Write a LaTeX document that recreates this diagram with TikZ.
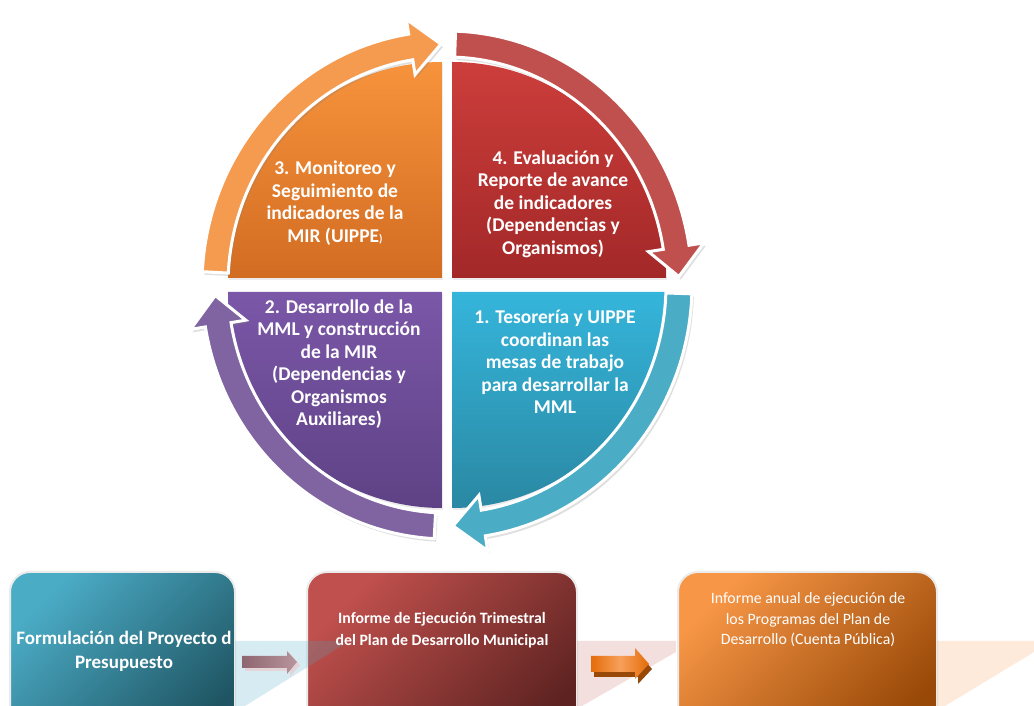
\documentclass[tikz,border=0pt]{standalone}
\usepackage{fontspec}
\setmainfont{Carlito}
\usetikzlibrary{calc,shadows}
\definecolor{secOrT}{HTML}{F7933C}
\definecolor{secOrB}{HTML}{D26C22}
\definecolor{secRdT}{HTML}{CC3E3B}
\definecolor{secRdB}{HTML}{A32828}
\definecolor{secBlT}{HTML}{35B5DB}
\definecolor{secBlB}{HTML}{2A88A3}
\definecolor{secPuT}{HTML}{7B57A8}
\definecolor{secPuB}{HTML}{5E4285}
\definecolor{arOr}{HTML}{F59B50}
\definecolor{arRd}{HTML}{C0504D}
\definecolor{arBl}{HTML}{4BACC6}
\definecolor{arPu}{HTML}{8064A2}
\definecolor{bxBlA}{HTML}{4BACC6}
\definecolor{bxBlB}{HTML}{1F5563}
\definecolor{bxRdA}{HTML}{C0504D}
\definecolor{bxRdB}{HTML}{5E2321}
\definecolor{bxOrA}{HTML}{F79646}
\definecolor{bxOrB}{HTML}{984807}
\definecolor{smOrD}{HTML}{E46C0A}
\definecolor{smOrL}{HTML}{F7A05A}
\definecolor{smOrS}{HTML}{984807}
\definecolor{smRdD}{HTML}{8E6670}
\definecolor{smRdL}{HTML}{B8959C}
\newcommand\ringarrow[4]{%
  \path[fill=#4, draw=white, line width=3pt,
        drop shadow={shadow xshift=2pt, shadow yshift=-3pt, opacity=0.25}]
    ($(C)+(#1:245pt and 254pt)$)
    arc[start angle=#1, end angle=#2, x radius=245pt, y radius=254pt]
    -- ($(C)+(#2:260pt and 269pt)$)
    -- ($(C)+(#3:232pt and 241pt)$)
    -- ($(C)+(#2:204pt and 213pt)$)
    -- ($(C)+(#2:219pt and 228pt)$)
    arc[start angle=#2, end angle=#1, x radius=219pt, y radius=228pt]
    -- cycle;}
\tikzset{
  ctext/.style={text=white, font=\bfseries\fontsize{19.5}{22.5}\selectfont, align=center, inner sep=0pt},
  btext/.style={text=white, align=center, inner sep=0pt},
  boxframe/.style={draw=black!8, line width=2pt, rounded corners=20pt},
}
\begin{document}
\begin{tikzpicture}[x=1pt,y=1pt]
\clip (0,0) rectangle (1034,706);
\fill[white] (0,0) rectangle (1034,706);
\coordinate (C) at (447,421);
% sectors
\shade[top color=secOrT, bottom color=secOrB, drop shadow={shadow xshift=1pt, shadow yshift=-2pt, opacity=0.15}]
  (442,428) -- ++(-214,0) arc[start angle=180, end angle=90, x radius=214pt, y radius=216pt] -- cycle;
\shade[top color=secRdT, bottom color=secRdB, drop shadow={shadow xshift=1pt, shadow yshift=-2pt, opacity=0.15}]
  (452,428) -- ++(0,216) arc[start angle=90, end angle=0, x radius=214pt, y radius=216pt] -- cycle;
\shade[top color=secBlT, bottom color=secBlB, drop shadow={shadow xshift=1pt, shadow yshift=-2pt, opacity=0.15}]
  (452,414) -- ++(214,0) arc[start angle=0, end angle=-90, x radius=214pt, y radius=216pt] -- cycle;
\shade[top color=secPuT, bottom color=secPuB, drop shadow={shadow xshift=1pt, shadow yshift=-2pt, opacity=0.15}]
  (442,414) -- ++(0,-216) arc[start angle=270, end angle=180, x radius=214pt, y radius=216pt] -- cycle;
% ring arrows
\ringarrow{177}{99}{91.5}{arOr}
\ringarrow{88}{9}{2}{arRd}
\ringarrow{-2}{-81}{-88.5}{arBl}
\ringarrow{267}{189.5}{182.5}{arPu}
% texts in the cycle
\node[ctext] (t3) at (335,503) {3. Monitoreo y\\Seguimiento de\\indicadores de la\\MIR (UIPPE{\fontsize{11}{13}\selectfont)}};
\node[ctext] (t4) at (553,502) {4. Evaluación y\\Reporte de avance\\de indicadores\\(Dependencias y\\Organismos)};
\node[ctext] (t2) at (339,342) {2. Desarrollo de la\\MML y construcción\\de la MIR\\(Dependencias y\\Organismos\\Auxiliares)};
\node[ctext] (t1) at (555,344) {1. Tesorería y UIPPE\\coordinan las\\mesas de trabajo\\para desarrollar la\\MML};
% bottom boxes
\path[boxframe, top color=bxBlA, bottom color=bxBlB, shading angle=45] (10,134) rectangle (235,-40);
\path[boxframe, top color=bxRdA, bottom color=bxRdB, shading angle=45] (307,134) rectangle (577,-40);
\path[boxframe, top color=bxOrA, bottom color=bxOrB, shading angle=45] (678,134) rectangle (937,-40);
% translucent background chevrons
\fill[bxBlA, fill opacity=0.22] (235,65) -- (343,65) -- (343,61) -- (245,0) -- (235,0) -- cycle;
\fill[bxRdA, fill opacity=0.18] (577,65) -- (676,65) -- (676,54) -- (582,0) -- (577,0) -- cycle;
\fill[bxOrA, fill opacity=0.2] (937,65) -- (1034,65) -- (1034,54) -- (945,0) -- (937,0) -- cycle;
% small arrows
\fill[smRdL!40] (245,47) -- (290,47) -- (290,52) -- (300,41) -- (290,29) -- (290,35) -- (245,35) -- cycle;
\path[left color=smRdD, right color=smRdL] (242,50) -- (287,50) -- (287,55) -- (297,44) -- (287,32) -- (287,38) -- (242,38) -- cycle;
\fill[smOrS] (594,45) -- (638,45) -- (638,53) -- (652,37) -- (638,22) -- (638,29) -- (594,29) -- cycle;
\path[left color=smOrD, right color=smOrD, middle color=smOrL] (591,50) -- (635,50) -- (635,58) -- (649,42) -- (635,27) -- (635,34) -- (591,34) -- cycle;
% box texts
\node[btext, font=\bfseries\fontsize{19}{24}\selectfont] (b1) at (124,55) {Formulación del Proyecto d\\Presupuesto};
\node[btext, font=\bfseries\fontsize{15.8}{21.5}\selectfont] (b2) at (442,76) {Informe de Ejecución Trimestral\\del Plan de Desarrollo Municipal};
\node[btext, font=\fontsize{15.8}{20.5}\selectfont] (b3) at (808,86) {Informe anual de ejecución de\\los Programas del Plan de\\Desarrollo (Cuenta Pública)};
\end{tikzpicture}
\end{document}
